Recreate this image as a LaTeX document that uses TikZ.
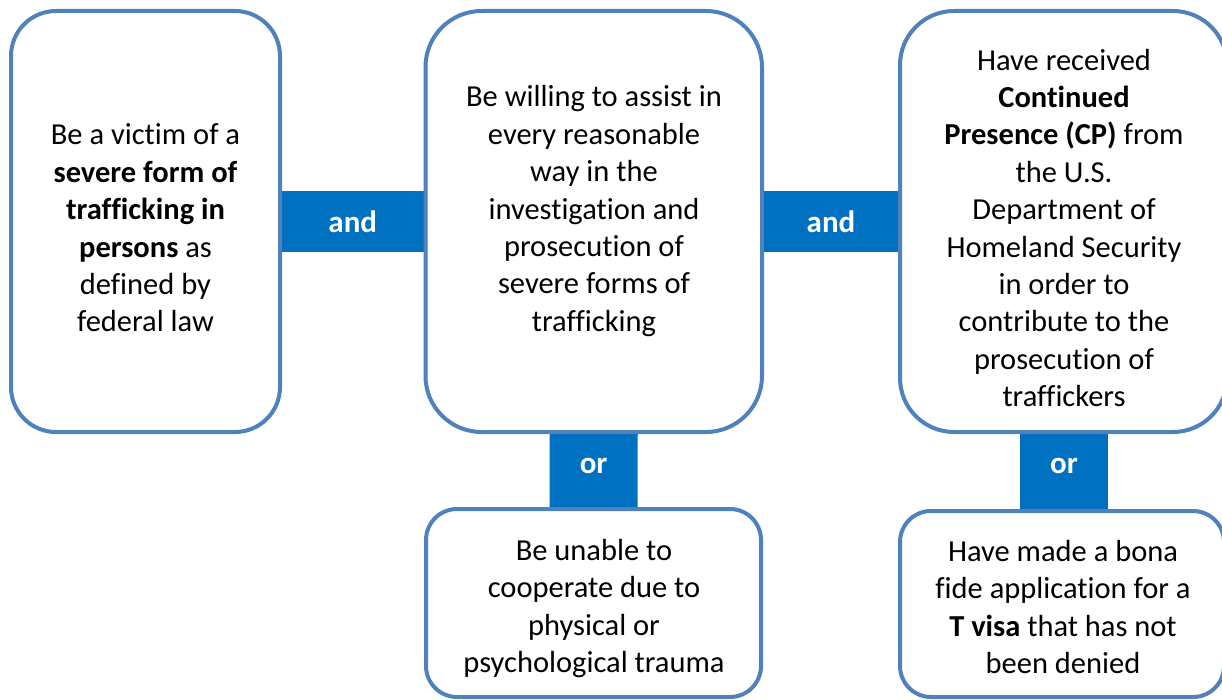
\documentclass[tikz,border=0pt]{standalone}
\usepackage{fontspec}
\setmainfont{Carlito}[Ligatures={NoCommon}]
\definecolor{boxblue}{HTML}{4F81BD}
\definecolor{barblue}{HTML}{0070C0}
\pgfdeclarelayer{background}
\pgfsetlayers{background,main}
\begin{document}
\begin{tikzpicture}[x=1pt,y=-1pt,
  cbox/.style={draw=boxblue, line width=4pt, rounded corners=#1, inner sep=0pt, outer sep=0pt, rectangle},
  bar/.style={draw=barblue, line cap=butt},
  barlabel/.style={text=white, font=\fontsize{31pt}{36pt}\selectfont\bfseries, inner sep=0pt},
  txt/.style={align=center, inner sep=0pt, text=black, font=\fontsize{30.5pt}{37.4pt}\selectfont}]
\useasboundingbox (0,0) rectangle (1222,700);
% boxes
\node[cbox=45pt, minimum width=269pt, minimum height=421pt] (A) at (145.5,221.5) {};
\node[cbox=56pt, minimum width=336.5pt, minimum height=421pt] (B) at (593.75,221.5) {};
\node[cbox=31pt, minimum width=335pt, minimum height=188pt] (C) at (593.5,603) {};
\node[cbox=54pt, minimum width=327pt, minimum height=421pt] (D) at (1063.5,221.5) {};
\node[cbox=31pt, minimum width=324pt, minimum height=186pt] (E) at (1062,604) {};
% texts
\node[txt] (tA) at (145.5,228) {Be a victim of a\\ \textbf{severe form of}\\ \textbf{trafficking in}\\ \textbf{persons} as\\ defined by\\ federal law};
\node[txt] (tB) at (594,211.2) {Be willing to assist in\\ every reasonable\\ way in the\\ investigation and\\ prosecution of\\ severe forms of\\ trafficking};
\node[txt] (tC) at (594,608.5) {Be unable to\\ cooperate due to\\ physical or\\ psychological trauma};
\node[txt] (tD) at (1064,228) {Have received\\ \textbf{Continued}\\ \textbf{Presence (CP)} from\\ the U.S.\\ Department of\\ Homeland Security\\ in order to\\ contribute to the\\ prosecution of\\ traffickers};
\node[txt] (tE) at (1063,607) {Have made a bona\\ fide application for a\\ \textbf{T visa} that has not\\ been denied};
% connector bars
\begin{pgfonlayer}{background}
\draw[bar, line width=61pt] (A.east) -- (B.west) node[barlabel, midway] (and1) {and};
\draw[bar, line width=61pt] (B.east) -- (D.west) node[barlabel, midway] (and2) {and};
\draw[bar, line width=88pt] (B.south) -- (C.north) node[barlabel, pos=0.44] (or1) {or};
\draw[bar, line width=88pt] ([xshift=0.5pt]D.south) -- ([xshift=2pt]E.north) node[barlabel, pos=0.43] (or2) {or};
\end{pgfonlayer}
\end{tikzpicture}
\end{document}
